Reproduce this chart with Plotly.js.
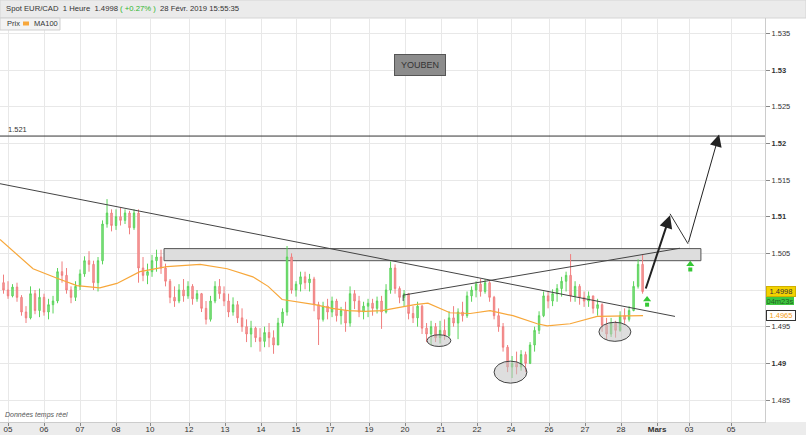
<!DOCTYPE html>
<html><head><meta charset="utf-8">
<script src="https://cdn.plot.ly/plotly-3.0.1.min.js"></script>
<style>html,body{margin:0;padding:0;background:#fff;}#chart{width:806px;height:435px;}</style>
</head><body><div id="chart"></div>
<script>
// ---- data (3-hour candles, Spot EUR/CAD) ----
const open = [1.5010,1.5000,1.4992,1.5004,1.4990,1.4970,1.4962,1.4995,1.4972,1.4990,1.4970,1.4980,1.4985,1.5025,1.5020,1.5000,1.4990,1.5005,1.5022,1.5040,1.5035,1.5010,1.5040,1.5090,1.5105,1.5088,1.5100,1.5095,1.5105,1.5085,1.5105,1.5030,1.5020,1.5025,1.5040,1.5045,1.5030,1.5012,1.4990,1.4985,1.5000,1.4992,1.5005,1.4988,1.4995,1.4975,1.4960,1.4985,1.5005,1.4995,1.4985,1.4970,1.4980,1.4962,1.4950,1.4940,1.4948,1.4935,1.4930,1.4942,1.4935,1.4925,1.4955,1.4970,1.5045,1.5000,1.5008,1.5018,1.5010,1.5015,1.4980,1.4960,1.4978,1.4970,1.4985,1.4965,1.4972,1.4955,1.4995,1.4985,1.4970,1.4978,1.4982,1.4975,1.4985,1.4970,1.5000,1.5030,1.5002,1.4990,1.4995,1.4968,1.4962,1.4978,1.4948,1.4940,1.4950,1.4935,1.4945,1.4938,1.4962,1.4955,1.4970,1.4965,1.4992,1.5000,1.5008,1.4998,1.5010,1.4990,1.4965,1.4950,1.4922,1.4895,1.4900,1.4895,1.4912,1.4900,1.4925,1.4945,1.4965,1.4992,1.4985,1.4995,1.5002,1.5012,1.5020,1.4992,1.5005,1.4990,1.4985,1.4992,1.4975,1.4980,1.4952,1.4940,1.4955,1.4945,1.4965,1.4960,1.4972,1.5005,1.5035];
const high = [1.5021,1.5012,1.5008,1.5010,1.4993,1.4978,1.5005,1.5000,1.5002,1.4995,1.4988,1.4992,1.5030,1.5039,1.5030,1.5005,1.5012,1.5028,1.5046,1.5053,1.5040,1.5045,1.5095,1.5124,1.5110,1.5110,1.5112,1.5110,1.5108,1.5110,1.5110,1.5045,1.5036,1.5048,1.5055,1.5055,1.5036,1.5015,1.5005,1.5008,1.5015,1.5012,1.5008,1.5000,1.4996,1.4985,1.4992,1.5012,1.5015,1.5005,1.4995,1.4990,1.4985,1.4975,1.4960,1.4958,1.4950,1.4948,1.4950,1.4955,1.4945,1.4962,1.4975,1.5060,1.5050,1.5012,1.5025,1.5025,1.5022,1.5018,1.4984,1.4984,1.4988,1.4991,1.4988,1.4977,1.4984,1.5005,1.5000,1.4992,1.4984,1.4988,1.4988,1.4991,1.4992,1.5008,1.5039,1.5035,1.5005,1.5000,1.4996,1.4978,1.4984,1.4980,1.4955,1.4958,1.4955,1.4958,1.4960,1.4971,1.4978,1.4975,1.4984,1.4998,1.5005,1.5012,1.5015,1.5015,1.5012,1.4992,1.4975,1.4955,1.4925,1.4910,1.4916,1.4918,1.4916,1.4929,1.4950,1.4971,1.4998,1.4998,1.5001,1.5008,1.5018,1.5025,1.5049,1.5012,1.5008,1.4998,1.4998,1.4992,1.4988,1.4982,1.4962,1.4962,1.4958,1.4971,1.4975,1.4978,1.5012,1.5042,1.5049];
const low = [1.4995,1.4988,1.4990,1.4984,1.4965,1.4955,1.4960,1.4967,1.4963,1.4965,1.4960,1.4968,1.4982,1.5010,1.4995,1.4982,1.4985,1.5000,1.5018,1.5025,1.5000,1.4998,1.5035,1.5085,1.5080,1.5082,1.5088,1.5090,1.5076,1.5082,1.5010,1.5012,1.5008,1.5018,1.5025,1.5022,1.5005,1.4982,1.4977,1.4982,1.4984,1.4988,1.4980,1.4984,1.4970,1.4953,1.4957,1.4982,1.4988,1.4978,1.4963,1.4965,1.4955,1.4943,1.4929,1.4922,1.4929,1.4916,1.4922,1.4922,1.4913,1.4925,1.4950,1.4965,1.4995,1.4991,1.4998,1.5001,1.4998,1.4971,1.4925,1.4957,1.4960,1.4963,1.4957,1.4953,1.4943,1.4950,1.4974,1.4963,1.4960,1.4963,1.4965,1.4968,1.4947,1.4968,1.4995,1.4995,1.4982,1.4978,1.4960,1.4955,1.4950,1.4940,1.4929,1.4925,1.4929,1.4927,1.4932,1.4936,1.4950,1.4933,1.4957,1.4962,1.4984,1.4990,1.4991,1.4995,1.4984,1.4960,1.4943,1.4916,1.4888,1.4880,1.4885,1.4890,1.4888,1.4899,1.4916,1.4940,1.4963,1.4975,1.4978,1.4984,1.4991,1.4998,1.4984,1.4984,1.4980,1.4977,1.4977,1.4968,1.4965,1.4943,1.4933,1.4936,1.4935,1.4943,1.4954,1.4957,1.4971,1.5002,1.4995];
const close = [1.5000,1.4992,1.5004,1.4990,1.4970,1.4962,1.4995,1.4972,1.4990,1.4970,1.4980,1.4985,1.5025,1.5020,1.5000,1.4990,1.5005,1.5022,1.5040,1.5035,1.5010,1.5040,1.5090,1.5105,1.5088,1.5100,1.5095,1.5105,1.5085,1.5105,1.5030,1.5020,1.5025,1.5040,1.5045,1.5030,1.5012,1.4990,1.4985,1.5000,1.4992,1.5005,1.4988,1.4995,1.4975,1.4960,1.4985,1.5005,1.4995,1.4985,1.4970,1.4980,1.4962,1.4950,1.4940,1.4948,1.4935,1.4930,1.4942,1.4935,1.4925,1.4955,1.4970,1.5045,1.5000,1.5008,1.5018,1.5010,1.5015,1.4980,1.4960,1.4978,1.4970,1.4985,1.4965,1.4972,1.4955,1.4995,1.4985,1.4970,1.4978,1.4982,1.4975,1.4985,1.4970,1.5000,1.5030,1.5002,1.4990,1.4995,1.4968,1.4962,1.4978,1.4948,1.4940,1.4950,1.4935,1.4945,1.4938,1.4962,1.4955,1.4970,1.4965,1.4992,1.5000,1.5008,1.4998,1.5010,1.4990,1.4965,1.4950,1.4922,1.4895,1.4900,1.4895,1.4912,1.4900,1.4925,1.4945,1.4965,1.4992,1.4985,1.4995,1.5002,1.5012,1.5020,1.4992,1.5005,1.4990,1.4985,1.4992,1.4975,1.4980,1.4952,1.4940,1.4955,1.4945,1.4965,1.4960,1.4972,1.5005,1.5035,1.4998];
// MA100 read points (bar index, price)
const maX = [-1.78,5.56,10.9,15.3,20.4,24.2,29.3,35.3,42.7,48.7,54.4,57.8,60.9,64.9,68.2,72,75.6,79.3,83.1,86.7,90.4,93.3,98.2,102.7,107.1,112.2,117.6,119.8,124.9,130.9,136.7,141.1];
const maY = [1.5069,1.5029,1.5016,1.5006,1.5003,1.5009,1.5025,1.5032,1.5035,1.5029,1.5018,1.5005,1.4987,1.4983,1.4980,1.4975,1.4972,1.4971,1.4972,1.4976,1.4980,1.4982,1.4969,1.4968,1.4972,1.4965,1.4954,1.4951,1.4954,1.4964,1.4964,1.4965];
// axis ticks
const xTickVals = [0,8,16,24,31.56,40.22,48.22,56.22,64,71.56,80.22,88.22,96.22,104.22,111.78,120.22,128.22,136.22,144.22,151.33,160.67];
const xTickText = ['05','06','07','08','10','12','13','14','15','17','19','20','21','22','24','26','27','28','<b>Mars</b>','03','05'];
const yTickVals = [1.485,1.49,1.495,1.5,1.505,1.51,1.515,1.52,1.525,1.53,1.535];
const yTickText = ['1.485','<b>1.49</b>','1.495','','1.505','<b>1.51</b>','1.515','<b>1.52</b>','1.525','<b>1.53</b>','1.535'];
const lastPrice = 1.4998, maLast = 1.4965, timer = '04m23s', targetLevel = 1.521;

// ---- drawings (analyst annotations, in bar-index/price units) ----
const downTrend = {x:[-1.78,148.2], y:[1.5145,1.4964]};
const upTrend = {x:[87.8,87.8,149.3], y:[1.4985,1.4993,1.5057]};
const zone = {x0:34.67, x1:153.96, y0:1.5040, y1:1.50565};
const ellipses = [{x0:93.1,x1:98.4,y0:1.4923,y1:1.4939},{x0:108,x1:115.3,y0:1.4873,y1:1.4903},{x0:131.3,x1:138.4,y0:1.4930,y1:1.4956}];
const zig = {x:[147.1,151.1], y:[1.5104,1.5063]};
const greenArrows = {x:[142,151.6], y:[1.4984,1.5032]};

const idx = close.map((_, k) => k - 1);
const F = 'Liberation Sans, Arial, sans-serif';

const traces = [
  {type:'candlestick', x:idx, open:open, high:high, low:low, close:close,
   increasing:{line:{color:'#5ad35a',width:1}, fillcolor:'#8ee28e'},
   decreasing:{line:{color:'#f07e7e',width:1}, fillcolor:'#f6a8a8'},
   whiskerwidth:0, hoverinfo:'skip'},
  {type:'scatter', mode:'lines', x:maX, y:maY, line:{color:'#f7a73a',width:1.2}, hoverinfo:'skip'},
  {type:'scatter', mode:'lines', x:downTrend.x, y:downTrend.y, line:{color:'#444',width:1}, hoverinfo:'skip'},
  {type:'scatter', mode:'lines', x:upTrend.x, y:upTrend.y, line:{color:'#444',width:1}, hoverinfo:'skip'},
  {type:'scatter', mode:'lines', x:zig.x, y:zig.y, line:{color:'#333',width:1}, hoverinfo:'skip'},
  {type:'scatter', mode:'markers', x:greenArrows.x, y:greenArrows.y.map(v=>v+0.0003), marker:{symbol:'triangle-up',size:7,color:'#35c835'}, hoverinfo:'skip'},
  {type:'scatter', mode:'markers', x:greenArrows.x, y:greenArrows.y.map(v=>v-0.0004), marker:{symbol:'square',size:4,color:'#35c835'}, hoverinfo:'skip'}
];

const H = 404; // plot height px
const py = p => 1 - (p - 18) / H; // page px -> paper y
const px = p => p / 765;

const shapes = [
  {type:'rect', xref:'paper', yref:'paper', x0:0, x1:806/765, y0:1, y1:1+18/H, fillcolor:'#ebebeb', line:{color:'#d5d5d5',width:1}, layer:'below'},
  {type:'rect', xref:'paper', yref:'paper', x0:0, x1:806/765, y0:-13/H, y1:0, fillcolor:'#ececec', line:{width:0}, layer:'below'},
  {type:'rect', xref:'x', yref:'y', x0:zone.x0, x1:zone.x1, y0:zone.y0, y1:zone.y1, fillcolor:'#dddddd', line:{color:'#555',width:1}, layer:'between'},
  {type:'line', xref:'paper', yref:'y', x0:0, x1:1, y0:targetLevel, y1:targetLevel, line:{color:'#333',width:1}},
  {type:'rect', xref:'paper', yref:'paper', x0:0, x1:px(60), y0:py(30), y1:1, fillcolor:'#f3f3f3', line:{color:'#cfcfcf',width:1}},
  {type:'rect', xref:'paper', yref:'paper', x0:px(23), x1:px(29), y0:py(25.5), y1:py(21.5), fillcolor:'#f7a73a', line:{width:0}}
].concat(ellipses.map(e => ({type:'circle', xref:'x', yref:'y', x0:e.x0, x1:e.x1, y0:e.y0, y1:e.y1, fillcolor:'rgba(195,195,195,0.55)', line:{color:'#444',width:1}, layer:'above'})));

const annotations = [
  {xref:'paper', yref:'paper', x:px(4), y:py(9), xanchor:'left', yanchor:'middle', showarrow:false,
   text:'Spot EUR/CAD\u00a0\u00a01 Heure\u00a0\u00a0' + lastPrice.toFixed(4) + ' <span style="color:#2fb52f">( +0.27% )</span>\u00a0\u00a028 Févr. 2019 15:55:35',
   font:{family:F, size:7.7, color:'#333'}},
  {xref:'paper', yref:'paper', x:px(5), y:py(23.5), xanchor:'left', yanchor:'middle', showarrow:false, text:'Prix', font:{family:F,size:7.5,color:'#333'}},
  {xref:'paper', yref:'paper', x:px(32), y:py(23.5), xanchor:'left', yanchor:'middle', showarrow:false, text:'MA100', font:{family:F,size:7.5,color:'#333'}},
  {xref:'paper', yref:'paper', x:px(3), y:py(415), xanchor:'left', yanchor:'middle', showarrow:false, text:'<i>Données temps réel</i>', font:{family:F,size:7,color:'#555'}},
  {xref:'paper', yref:'y', x:px(6), y:targetLevel, xanchor:'left', yanchor:'bottom', showarrow:false, text:String(targetLevel), font:{family:F,size:7.5,color:'#333'}},
  {xref:'paper', yref:'paper', x:px(420), y:py(65), xanchor:'center', yanchor:'middle', showarrow:false, text:'YOUBEN',
   font:{family:F,size:9,color:'#333'}, bgcolor:'#8c8c8c', bordercolor:'#555', borderwidth:1, borderpad:2, width:46, height:16},
  {xref:'x', yref:'y', axref:'x', ayref:'y', x:147.1, y:1.5102, ax:141.6, ay:1.5000, text:'', showarrow:true, arrowhead:2, arrowsize:1.3, arrowwidth:2, arrowcolor:'#222'},
  {xref:'x', yref:'y', axref:'x', ayref:'y', x:158.0, y:1.5212, ax:151.1, ay:1.5063, text:'', showarrow:true, arrowhead:2, arrowsize:2.4, arrowwidth:1, arrowcolor:'#222'},
  {xref:'paper', yref:'y', x:px(781), y:lastPrice, xanchor:'center', yanchor:'middle', showarrow:false, text:lastPrice.toFixed(4),
   font:{family:F,size:7.5,color:'#333'}, bgcolor:'#f3d200', bordercolor:'#d0b000', borderwidth:1, borderpad:0, width:28, height:9},
  {xref:'paper', yref:'y', x:px(780), y:1.4985, xanchor:'center', yanchor:'middle', showarrow:false, text:timer,
   font:{family:F,size:7.5,color:'#1f5f1f'}, bgcolor:'#3fc83f', borderwidth:0, borderpad:0, width:28, height:8},
  {xref:'paper', yref:'y', x:px(781), y:maLast, xanchor:'center', yanchor:'middle', showarrow:false, text:maLast.toFixed(4),
   font:{family:F,size:7.5,color:'#f5a020'}, bgcolor:'#ffffff', bordercolor:'#333', borderwidth:1, borderpad:0, width:28, height:9}
];

const layout = {
  width:806, height:435, margin:{l:0,r:41,t:18,b:13,pad:0},
  paper_bgcolor:'#fff', plot_bgcolor:'#fff', showlegend:false, boxgap:0.55,
  font:{family:F, size:8, color:'#333'},
  xaxis:{range:[-1.78,168.2], tickvals:xTickVals, ticktext:xTickText, showgrid:true, gridcolor:'#e8e8e8', gridwidth:1,
         ticks:'outside', ticklen:3, tickcolor:'#888', tickfont:{family:F,size:8,color:'#333'}, zeroline:false,
         showline:true, linecolor:'#ccc', rangeslider:{visible:false}, fixedrange:true, ticklabelstandoff:-4},
  yaxis:{side:'right', range:[1.4820,1.5371], tickvals:yTickVals, ticktext:yTickText, showgrid:true, gridcolor:'#e8e8e8',
         ticks:'outside', ticklen:4, tickcolor:'#888', tickfont:{family:F,size:7.5,color:'#333'}, zeroline:false,
         showline:true, linecolor:'#ccc', fixedrange:true},
  shapes:shapes, annotations:annotations
};

Plotly.newPlot('chart', traces, layout, {staticPlot:true, displayModeBar:false});
</script></body></html>
